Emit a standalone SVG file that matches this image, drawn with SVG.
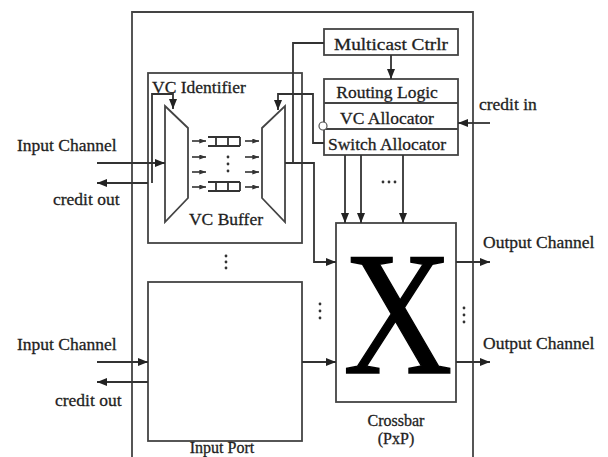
<svg xmlns="http://www.w3.org/2000/svg" width="608" height="457" viewBox="0 0 608 457">
<defs>
<marker id="ah" viewBox="0 0 10 8" refX="10" refY="4" markerWidth="10" markerHeight="8" markerUnits="userSpaceOnUse" orient="auto">
<path d="M0,0 L10,4 L0,8 z" fill="#222"/>
</marker>
<marker id="sh" viewBox="0 0 8 6" refX="8" refY="3" markerWidth="7" markerHeight="5" markerUnits="userSpaceOnUse" orient="auto">
<path d="M0,0 L8,3 L0,6 z" fill="#333"/>
</marker>
</defs>
<style>
text{font-family:"Liberation Serif","Times New Roman",serif;font-size:17.5px;fill:#1e1e1e;stroke:#1e1e1e;stroke-width:0.3}
.b{fill:none;stroke:#444;stroke-width:1.8}
.w{fill:#fff;stroke:#444;stroke-width:1.8}
.c{fill:none;stroke:#333;stroke-width:1.8}
.a{marker-end:url(#ah)}
.s{fill:none;stroke:#333;stroke-width:1.6;marker-end:url(#sh)}
.d{fill:#333}
.m{text-anchor:middle}
.sm{font-size:16px}
</style>
<rect width="608" height="457" fill="#fff"/>
<g id="router">
<path class="b" d="M132,462 V12 H473 V462"/>
</g>
<g id="vc-identifier">
<rect class="b" x="148" y="73" width="154" height="170"/>
<text x="152" y="93">VC Identifier</text>
</g>
<g id="demux">
<path class="w" d="M165,106 L188,128 L188,198 L165,222 Z"/>
</g>
<g id="mux">
<path class="w" d="M262,128 L285,106 L285,222 L262,198 Z"/>
</g>
<g id="vc-buffer">
<path class="c" d="M208,137 H240 M208,146 H240 M216,137 V146 M228,137 V146 M240,137 V146"/>
<path class="c" d="M208,182 H240 M208,191 H240 M216,182 V191 M228,182 V191 M240,182 V191"/>
<circle class="d" cx="228" cy="157" r="1.4"/>
<circle class="d" cx="228" cy="164" r="1.4"/>
<circle class="d" cx="228" cy="171" r="1.4"/>
<text class="m" x="226" y="225">VC Buffer</text>
</g>
<g id="multicast-ctrlr">
<rect class="w" x="324" y="29" width="134" height="26"/>
<text class="m" x="391" y="50" textLength="114" lengthAdjust="spacingAndGlyphs">Multicast Ctrlr</text>
</g>
<g id="allocators">
<rect class="w" x="324" y="79" width="134" height="76"/>
<path class="b" d="M324,103 H458 M324,129 H458"/>
<text class="m" x="387" y="98">Routing Logic</text>
<text class="m" x="387" y="124">VC Allocator</text>
<text class="m" x="387" y="150">Switch Allocator</text>
<circle cx="323" cy="126" r="4" fill="#fff" stroke="#555" stroke-width="1.2"/>
</g>
<g id="input-port">
<rect class="b" x="148" y="282" width="154" height="159"/>
<text class="m sm" x="222" y="453">Input Port</text>
</g>
<g id="crossbar">
<rect class="w" x="336" y="223" width="120" height="179"/>
<text transform="translate(398,373) scale(0.86,1)" class="m" x="0" y="0" style="font-size:176px;fill:#000;stroke:#000;stroke-width:1.5">X</text>
<text class="m sm" x="396" y="426">Crossbar</text>
<text class="m sm" x="396" y="444">(PxP)</text>
</g>
<g id="labels">
<text x="17" y="151">Input Channel</text>
<text x="53" y="205">credit out</text>
<text x="17" y="350">Input Channel</text>
<text x="55" y="406">credit out</text>
<text x="479" y="110">credit in</text>
<text x="483" y="248">Output Channel</text>
<text x="483" y="349">Output Channel</text>
</g>
<g id="dots">
<circle class="d" cx="226" cy="256" r="1.4"/><circle class="d" cx="226" cy="262" r="1.4"/><circle class="d" cx="226" cy="268" r="1.4"/>
<circle class="d" cx="320" cy="304" r="1.4"/><circle class="d" cx="320" cy="311" r="1.4"/><circle class="d" cx="320" cy="318" r="1.4"/>
<circle class="d" cx="464" cy="308" r="1.4"/><circle class="d" cx="464" cy="315" r="1.4"/><circle class="d" cx="464" cy="322" r="1.4"/>
<circle class="d" cx="383" cy="182" r="1.4"/><circle class="d" cx="389" cy="182" r="1.4"/><circle class="d" cx="395" cy="182" r="1.4"/>
</g>
<g id="connectors">
<path class="c a" d="M97,163 H165"/>
<path class="c a" d="M148,183 H97"/>
<path class="c a" d="M152,183 V94 H173 V109"/>
<path class="s" d="M192,141 H206"/>
<path class="s" d="M192,157 H206"/>
<path class="s" d="M192,172 H206"/>
<path class="s" d="M192,187 H206"/>
<path class="s" d="M245,141 H259"/>
<path class="s" d="M245,157 H259"/>
<path class="s" d="M245,172 H259"/>
<path class="s" d="M245,187 H259"/>
<path class="c a" d="M324,143 H313 V94 H278 V110"/>
<path class="c" d="M324,43 H293 V163"/>
<path class="c a" d="M285,163 H314 V262 H336"/>
<path class="c a" d="M391,55 V79"/>
<path class="c a" d="M490,123 H458"/>
<path class="c a" d="M345,155 V223"/>
<path class="c a" d="M361,155 V223"/>
<path class="c a" d="M403,155 V223"/>
<path class="c a" d="M456,262 H490"/>
<path class="c a" d="M456,362 H490"/>
<path class="c a" d="M97,362 H148"/>
<path class="c a" d="M148,382 H97"/>
<path class="c a" d="M302,362 H336"/>
</g>
</svg>
